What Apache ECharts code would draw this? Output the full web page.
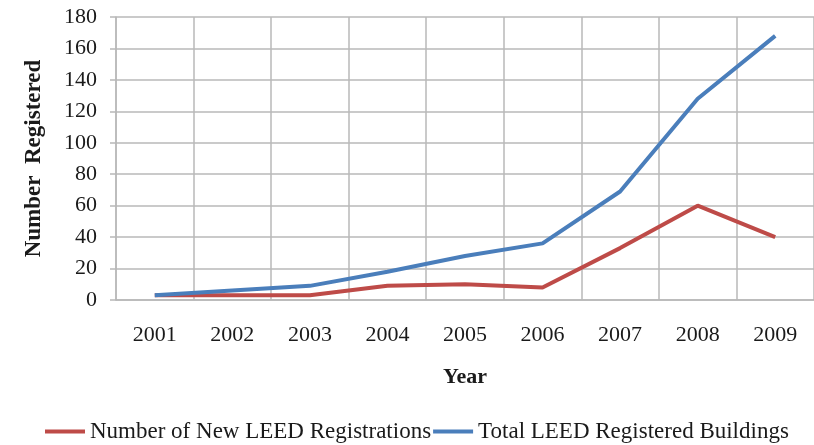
<!DOCTYPE html>
<html>
<head>
<meta charset="utf-8">
<script src="https://cdn.jsdelivr.net/npm/echarts@6/dist/echarts.min.js"></script>
<style>
  html, body { margin: 0; padding: 0; background: #fff; }
  #chart { width: 814px; height: 445px; }
</style>
</head>
<body>
<div id="chart"></div>
<script>
"use strict";

var years = ['2001', '2002', '2003', '2004', '2005', '2006', '2007', '2008', '2009'];
var newRegistrations = [3, 3, 3, 9, 10, 8, 33, 60, 40];
var totalRegistered = [3, 6, 9, 18, 28, 36, 69, 128, 168];

var SERIF = '"Liberation Serif", "Times New Roman", serif';
var GRID_COLOR = '#b8b8b8';
var TEXT_COLOR = '#1a1a1a';

var chart = echarts.init(document.getElementById('chart'));

chart.setOption({
	animation: false,
	textStyle: { fontFamily: SERIF },
	grid: {
		left: 116,
		top: 17,
		right: -1,
		bottom: 145
	},
	legend: {
		bottom: -3,
		left: 40,
		icon: 'rect',
		itemWidth: 40,
		itemHeight: 4,
		itemGap: 2,
		textStyle: { fontFamily: SERIF, fontSize: 23, color: TEXT_COLOR },
		data: ['Number of New LEED Registrations', 'Total LEED Registered Buildings']
	},
	xAxis: [{
		type: 'category',
		boundaryGap: true,
		data: years,
		name: 'Year',
		nameLocation: 'middle',
		nameGap: 66,
		nameTextStyle: { fontFamily: SERIF, fontSize: 22, fontWeight: 'bold', color: TEXT_COLOR, verticalAlign: 'top' },
		axisLine: { lineStyle: { color: GRID_COLOR, width: 1.5 } },
		axisTick: { show: false },
		axisLabel: { fontFamily: SERIF, fontSize: 22, color: TEXT_COLOR, margin: 24 },
		splitLine: { show: true, lineStyle: { color: GRID_COLOR, width: 1.5 } }
	}],
	yAxis: [{
		type: 'value',
		min: 0,
		max: 180,
		interval: 20,
		name: 'Number  Registered',
		nameLocation: 'middle',
		nameGap: 70,
		nameTextStyle: { fontFamily: SERIF, fontSize: 23, fontWeight: 'bold', color: TEXT_COLOR },
		axisLine: { show: true, lineStyle: { color: GRID_COLOR, width: 1.5 } },
		axisTick: { show: true, inside: false, length: 6, lineStyle: { color: GRID_COLOR, width: 1.5 } },
		axisLabel: { fontFamily: SERIF, fontSize: 22, color: TEXT_COLOR, margin: 19 },
		splitLine: { show: true, lineStyle: { color: GRID_COLOR, width: 1.5 } }
	}],
	series: [{
		name: 'Number of New LEED Registrations',
		type: 'line',
		data: newRegistrations,
		symbol: 'none',
		color: '#be4b48',
		lineStyle: { width: 4, color: '#be4b48' }
	}, {
		name: 'Total LEED Registered Buildings',
		type: 'line',
		data: totalRegistered,
		symbol: 'none',
		color: '#4a7ebb',
		lineStyle: { width: 4, color: '#4a7ebb' }
	}]
});
</script>
</body>
</html>
